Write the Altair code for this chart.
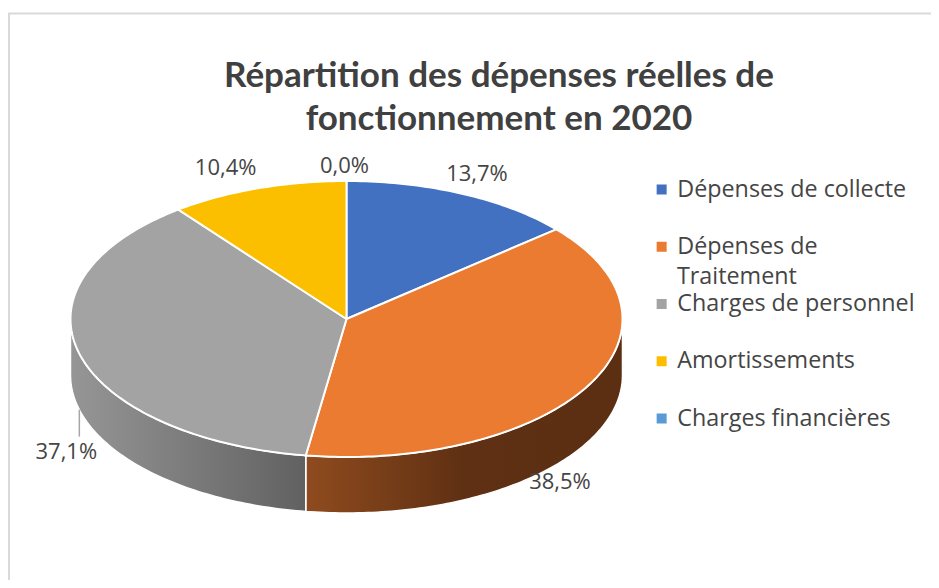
import math
import altair as alt
import pandas as pd

categories = ["Dépenses de collecte", "Dépenses de Traitement", "Charges de personnel", "Amortissements", "Charges financières"]
shares = [13.7, 38.5, 37.1, 10.4, 0.0]
colors = ["#4271c1", "#eb7b31", "#a3a3a3", "#fcbf00", "#5b9bd5"]
title_lines = ["Répartition des dépenses réelles de", "fonctionnement en 2020"]
legend_wrap = ["Dépenses de", "Traitement"]

W, H = 923, 572
CX, CY, RX, RY, DEPTH = 338.5, 311, 276, 138, 56
TEXT = "#454545"
LABEL_FONT = "Open Sans"
LEGEND_SIZE = 23.3
WRAP_X, WRAP_Y = 669, 269  # second line of the wrapped legend entry
# label nudges from the rim point at each slice's mid angle
nudges = [(15, -20), (-28, 96), (-13, 98), (-32, -20), (-2, -15)]


def rim(angle):
    a = math.radians(angle)
    return CX + RX * math.sin(a), CY - RY * math.cos(a)


total = sum(shares)
starts, ends, run = [], [], 0.0
for s in shares:
    starts.append(run / total * 360)
    run += s
    ends.append(run / total * 360)


def arc(a0, a1):
    n = max(2, int(abs(a1 - a0)) + 2)
    return [a0 + (a1 - a0) * k / (n - 1) for k in range(n)]


top_rows, wall_rows = [], []
for cat, a0, a1 in zip(categories, starts, ends):
    if a1 <= a0:
        continue
    pts = [(CX, CY)] + [rim(a) for a in arc(a0, a1)] + [(CX, CY)]
    top_rows += [{"cat": cat, "i": i, "x": p[0], "y": p[1]} for i, p in enumerate(pts)]
    lo, hi = max(a0, 90), min(a1, 270)
    if hi > lo:
        upper = [rim(a) for a in arc(lo, hi)]
        lower = [(x, y + DEPTH) for x, y in reversed(upper)]
        loop = upper + lower + upper[:1]
        wall_rows += [{"cat": cat, "i": i, "x": p[0], "y": p[1]} for i, p in enumerate(loop)]

top_df = pd.DataFrame(top_rows)
wall_df = pd.DataFrame(wall_rows)

xs = alt.Scale(domain=[0, W], range=[0, W])
ys = alt.Scale(domain=[0, H], range=[0, H])
X = alt.X("x:Q", scale=xs, axis=None)
Y = alt.Y("y:Q", scale=ys, axis=None)


def grad(stops):
    return alt.LinearGradient(
        gradient="linear", x1=0, x2=1, y1=0, y2=0,
        stops=[alt.GradientStop(color=c, offset=o) for o, c in stops],
    )


wall_fills = {
    "Dépenses de Traitement": grad([(0, "#8f4b1e"), (0.5, "#5f3013"), (1, "#5c2f12")]),
    "Charges de personnel": grad([(0, "#969696"), (1, "#616161")]),
}

layers = []
frame = pd.DataFrame({"x": [0, 1], "x2": [W, 1], "y": [5.5, 5], "y2": [5.5, H]})
layers.append(
    alt.Chart(frame).mark_rule(color="#d9d9d9", strokeWidth=2).encode(x=X, x2="x2:Q", y=Y, y2="y2:Q")
)

for cat, fill in wall_fills.items():
    layers.append(
        alt.Chart(wall_df[wall_df["cat"] == cat])
        .mark_line(fill=fill, stroke="white", strokeWidth=1.5, interpolate="linear")
        .encode(x=X, y=Y, order="i:Q")
    )

layers.append(
    alt.Chart(top_df)
    .mark_line(stroke="white", strokeWidth=2, interpolate="linear")
    .encode(
        x=X, y=Y, order="i:Q",
        fill=alt.Fill(
            "cat:N",
            scale=alt.Scale(domain=categories, range=colors),
            legend=alt.Legend(
                orient="none", legendX=642, legendY=153, title=None,
                symbolType="square", symbolSize=100, symbolStrokeWidth=0,
                labelFont=LABEL_FONT, labelFontSize=LEGEND_SIZE, labelColor=TEXT, labelOffset=4,
                labelLimit=300, rowPadding=0.25, clipHeight=57,
                labelExpr=f"datum.label == '{categories[1]}' ? '{legend_wrap[0]}' : datum.label",
            ),
        ),
    )
)

wrap = pd.DataFrame({"x": [WRAP_X], "y": [WRAP_Y], "t": [legend_wrap[1]]})
layers.append(
    alt.Chart(wrap)
    .mark_text(font=LABEL_FONT, fontSize=LEGEND_SIZE, color=TEXT, align="left", baseline="middle")
    .encode(x=X, y=Y, text="t:N")
)

# leader line of the 37,1% label, below the wall at the slice's mid angle
gx, gy = rim((starts[2] + ends[2]) / 2)
leader = pd.DataFrame({"x": [gx], "y": [gy + DEPTH], "y2": [gy + DEPTH + 27]})
layers.append(
    alt.Chart(leader).mark_rule(color="#a6a6a6", strokeWidth=1.5).encode(x=X, y=Y, y2="y2:Q")
)

for s, a0, a1, (dx, dy) in zip(shares, starts, ends, nudges):
    px, py = rim((a0 + a1) / 2)
    row = pd.DataFrame({"x": [px], "y": [py], "t": [f"{s:.1f}%".replace(".", ",")]})
    layers.append(
        alt.Chart(row)
        .mark_text(font=LABEL_FONT, fontSize=22, color=TEXT, dx=dx, dy=dy, align="center", baseline="middle")
        .encode(x=X, y=Y, text="t:N")
    )

chart = (
    alt.layer(*layers)
    .properties(
        width=W, height=H, padding=0,
        autosize=alt.AutoSizeParams(type="none"),
        title=alt.TitleParams(
            text=title_lines, font="Lato", fontSize=35, fontWeight="bold", color="#404040",
            anchor="start", frame="group", dx=491, dy=133, align="center", lineHeight=43,
        ),
    )
    .configure_view(stroke=None)
)
chart.save("out.html", embed_options={"renderer": "svg", "actions": False})
